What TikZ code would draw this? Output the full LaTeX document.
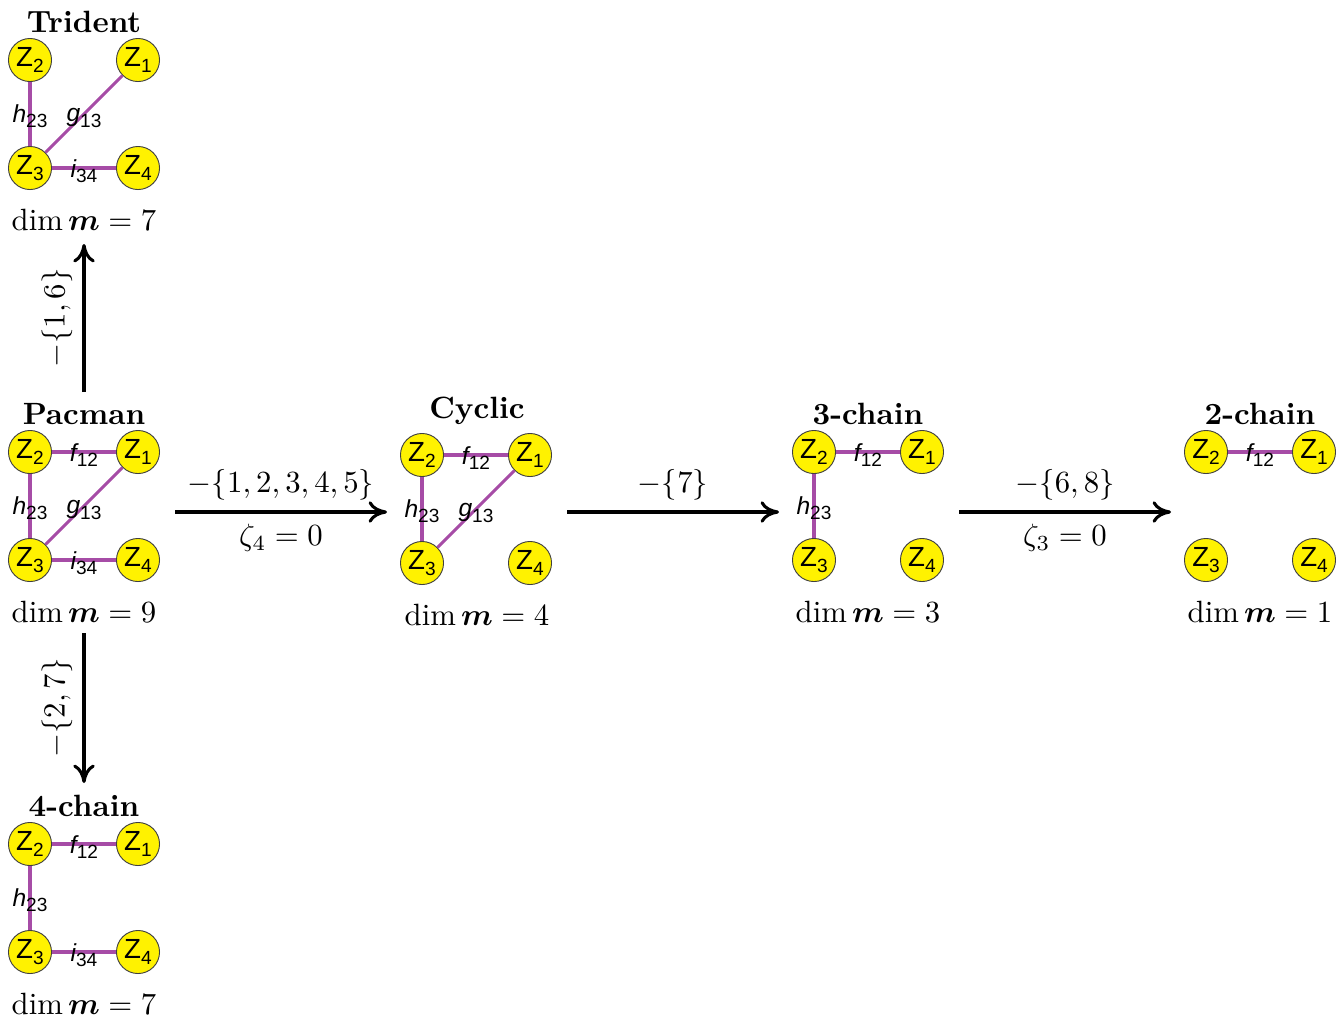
\documentclass[tikz,border=0pt]{standalone}
\usepackage{amsmath,bm}
\usepackage{fontspec}
\newfontfamily\lsans{Liberation Sans}
\usetikzlibrary{arrows.meta}
\definecolor{edgepurple}{RGB}{166,76,166}
\newcommand{\zlab}[1]{{\lsans\fontsize{9}{10}\selectfont Z\raisebox{-0.35ex}{\fontsize{6.2}{7}\selectfont #1}}}
\newcommand{\elab}[2]{{\lsans\fontsize{8}{9}\selectfont\itshape #1\upshape\raisebox{-0.4ex}{\fontsize{6.2}{7}\selectfont #2}}}
\tikzset{
  znode/.style={circle,draw=black!75,line width=0.3pt,fill=yellow,minimum size=14pt,inner sep=0pt},
  edge/.style={draw=edgepurple,line width=1pt},
  title/.style={font=\bfseries},
  arr/.style={line width=1pt,-{To[length=6pt,width=7pt]}},
  elb/.style={inner sep=0pt}
}
\begin{document}
\begin{tikzpicture}[x=0.325pt,y=-0.325pt]
\useasboundingbox (0,0) rectangle (1340,1017);
% Trident
\node[title] (tT) at (84,22) {Trident};
\node[znode] (t2) at (30,60) {\zlab{2}};
\node[znode] (t1) at (138,60) {\zlab{1}};
\node[znode] (t3) at (30,168) {\zlab{3}};
\node[znode] (t4) at (138,168) {\zlab{4}};
\draw[edge] (t2) -- (t3);
\draw[edge] (t1) -- (t3);
\draw[edge] (t3) -- (t4);
\node[elb] (th) at (30,116) {\elab{h}{23}};
\node[elb] (tg) at (84,118) {\elab{g}{13}};
\node[elb] (ti) at (84,171) {\elab{i}{34}};
\node (td) at (84,220) {$\dim\bm{m}=7$};
% Pacman
\node[title] (pT) at (84,414) {Pacman};
\node[znode] (p2) at (30,452) {\zlab{2}};
\node[znode] (p1) at (138,452) {\zlab{1}};
\node[znode] (p3) at (30,560) {\zlab{3}};
\node[znode] (p4) at (138,560) {\zlab{4}};
\draw[edge] (p2) -- (p1);
\draw[edge] (p2) -- (p3);
\draw[edge] (p1) -- (p3);
\draw[edge] (p3) -- (p4);
\node[elb] (pf) at (84,455) {\elab{f}{12}};
\node[elb] (ph) at (30,508) {\elab{h}{23}};
\node[elb] (pg) at (84,510) {\elab{g}{13}};
\node[elb] (pi) at (84,563) {\elab{i}{34}};
\node (pd) at (84,612) {$\dim\bm{m}=9$};
% Cyclic
\node[title] (cT) at (477,411) {Cyclic};
\node[znode] (c2) at (422,455) {\zlab{2}};
\node[znode] (c1) at (530,455) {\zlab{1}};
\node[znode] (c3) at (422,563) {\zlab{3}};
\node[znode] (c4) at (530,563) {\zlab{4}};
\draw[edge] (c2) -- (c1);
\draw[edge] (c2) -- (c3);
\draw[edge] (c1) -- (c3);
\node[elb] (cf) at (476,458) {\elab{f}{12}};
\node[elb] (ch) at (422,511) {\elab{h}{23}};
\node[elb] (cg) at (476,513) {\elab{g}{13}};
\node (cd) at (477,615) {$\dim\bm{m}=4$};
% 3-chain
\node[title] (hT) at (868,414) {3-chain};
\node[znode] (h2) at (814,452) {\zlab{2}};
\node[znode] (h1) at (922,452) {\zlab{1}};
\node[znode] (h3) at (814,560) {\zlab{3}};
\node[znode] (h4) at (922,560) {\zlab{4}};
\draw[edge] (h2) -- (h1);
\draw[edge] (h2) -- (h3);
\node[elb] (hf) at (868,455) {\elab{f}{12}};
\node[elb] (hh) at (814,508) {\elab{h}{23}};
\node (hd) at (868,612) {$\dim\bm{m}=3$};
% 2-chain
\node[title] (wT) at (1260,414) {2-chain};
\node[znode] (w2) at (1206,452) {\zlab{2}};
\node[znode] (w1) at (1314,452) {\zlab{1}};
\node[znode] (w3) at (1206,560) {\zlab{3}};
\node[znode] (w4) at (1314,560) {\zlab{4}};
\draw[edge] (w2) -- (w1);
\node[elb] (wf) at (1260,455) {\elab{f}{12}};
\node (wd) at (1260,612) {$\dim\bm{m}=1$};
% 4-chain
\node[title] (fT) at (84,806) {4-chain};
\node[znode] (f2) at (30,844) {\zlab{2}};
\node[znode] (f1) at (138,844) {\zlab{1}};
\node[znode] (f3) at (30,952) {\zlab{3}};
\node[znode] (f4) at (138,952) {\zlab{4}};
\draw[edge] (f2) -- (f1);
\draw[edge] (f2) -- (f3);
\draw[edge] (f3) -- (f4);
\node[elb] (ff) at (84,847) {\elab{f}{12}};
\node[elb] (fh) at (30,900) {\elab{h}{23}};
\node[elb] (fi) at (84,955) {\elab{i}{34}};
\node (fd) at (84,1004) {$\dim\bm{m}=7$};
% arrows
\coordinate (a1s) at (175,512); \coordinate (a1e) at (387,512);
\draw[arr] (a1s) -- (a1e);
\node (a1t) at (281,485) {$-\{1,2,3,4,5\}$};
\node (a1b) at (281,538) {$\zeta_4=0$};
\coordinate (a2s) at (567,512); \coordinate (a2e) at (779,512);
\draw[arr] (a2s) -- (a2e);
\node (a2t) at (673,485) {$-\{7\}$};
\coordinate (a3s) at (959,512); \coordinate (a3e) at (1171,512);
\draw[arr] (a3s) -- (a3e);
\node (a3t) at (1065,485) {$-\{6,8\}$};
\node (a3b) at (1065,538) {$\zeta_3=0$};
\coordinate (v1s) at (84,392); \coordinate (v1e) at (84,244);
\draw[arr] (v1s) -- (v1e);
\node[rotate=90] (v1) at (57,318) {$-\{1,6\}$};
\coordinate (v2s) at (84,633); \coordinate (v2e) at (84,783);
\draw[arr] (v2s) -- (v2e);
\node[rotate=90] (v2) at (57,708) {$-\{2,7\}$};
\end{tikzpicture}
\end{document}
